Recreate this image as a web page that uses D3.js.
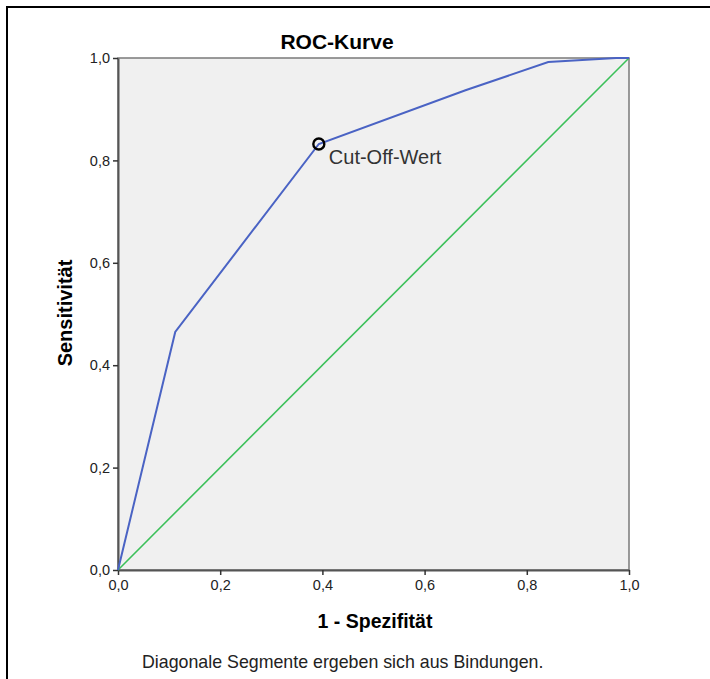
<!DOCTYPE html>
<html>
<head>
<meta charset="utf-8">
<script src="https://cdn.jsdelivr.net/npm/d3@7"></script>
<style>
  body { margin: 0; background: #fff; }
  svg { display: block; font-family: "Liberation Sans", Arial, sans-serif; }
</style>
</head>
<body>
<svg></svg>
<script>
const width = 710;
const height = 679;

// plot area
const x0 = 118, x1 = 629, y0 = 58, y1 = 570;

// ROC curve (1 - Spezifität, Sensitivität)
const rocX = [0, 0.112, 0.393, 0.68, 0.842, 0.975, 1];
const rocY = [0, 0.465, 0.832, 0.937, 0.992, 1, 1];
// reference diagonal
const diagX = [0, 1];
const diagY = [0, 1];
// cut-off point
const cutX = [0.393];
const cutY = [0.832];
const tickValues = [0, 0.2, 0.4, 0.6, 0.8, 1.0];

const svg = d3.select("svg")
  .attr("width", width)
  .attr("height", height);

// outer frame (top and left only visible)
svg.append("path")
  .attr("d", `M7,${height} L7,7 L${width},7`)
  .attr("fill", "none")
  .attr("stroke", "#000")
  .attr("stroke-width", 2);

const scX = d3.scaleLinear().domain([0, 1]).range([x0, x1]);
const scY = d3.scaleLinear().domain([0, 1]).range([y1, y0]);
const fmt = d => d3.format(".1f")(d).replace(".", ",");

// plot background
svg.append("rect")
  .attr("x", x0).attr("y", y0)
  .attr("width", x1 - x0).attr("height", y1 - y0)
  .attr("fill", "#f0f0f0")
  .attr("stroke", "#7a7a7a")
  .attr("stroke-width", 1.5);

// axes
const axX = svg.append("g")
  .attr("transform", `translate(0, ${y1})`)
  .call(d3.axisBottom(scX).tickValues(tickValues).tickFormat(fmt).tickSize(5).tickSizeOuter(0));
const axY = svg.append("g")
  .attr("transform", `translate(${x0}, 0)`)
  .call(d3.axisLeft(scY).tickValues(tickValues).tickFormat(fmt).tickSize(5).tickSizeOuter(0));

[axX, axY].forEach(ax => {
  ax.select(".domain").attr("stroke", "#555").attr("stroke-width", 2);
  ax.selectAll(".tick line").attr("stroke", "#333").attr("stroke-width", 1.5);
  ax.selectAll(".tick text")
    .attr("fill", "#222")
    .style("font-size", "14.5px")
    .style("font-family", "Liberation Sans, Arial, sans-serif");
});
axX.selectAll(".tick text").attr("dy", "0.85em");
axY.selectAll(".tick text").attr("x", -8);

const line = d3.line().x(d => scX(d[0])).y(d => scY(d[1]));

// diagonal
svg.append("path")
  .datum(diagX.map((v, i) => [v, diagY[i]]))
  .attr("d", line)
  .attr("fill", "none")
  .attr("stroke", "#3cc05a")
  .attr("stroke-width", 1.6);

// ROC curve
svg.append("path")
  .datum(rocX.map((v, i) => [v, rocY[i]]))
  .attr("d", line)
  .attr("fill", "none")
  .attr("stroke", "#4a63c4")
  .attr("stroke-width", 2);

// cut-off marker
svg.selectAll(".cut")
  .data(cutX.map((v, i) => [v, cutY[i]]))
  .enter()
  .append("circle")
  .attr("cx", d => scX(d[0]))
  .attr("cy", d => scY(d[1]))
  .attr("r", 5.5)
  .attr("fill", "none")
  .attr("stroke", "#000")
  .attr("stroke-width", 2.4);

svg.append("text")
  .attr("x", scX(cutX[0]) + 10)
  .attr("y", scY(cutY[0]) + 20)
  .attr("fill", "#333")
  .style("font-size", "20px")
  .text("Cut-Off-Wert");

// title
svg.append("text")
  .attr("x", 337).attr("y", 49)
  .attr("text-anchor", "middle")
  .style("font-size", "21px")
  .style("font-weight", "bold")
  .text("ROC-Kurve");

// axis titles
svg.append("text")
  .attr("x", 375).attr("y", 628)
  .attr("text-anchor", "middle")
  .style("font-size", "19.5px")
  .style("font-weight", "bold")
  .text("1 - Spezifität");

svg.append("text")
  .attr("transform", `translate(72, 313) rotate(-90)`)
  .attr("text-anchor", "middle")
  .style("font-size", "20px")
  .style("font-weight", "bold")
  .text("Sensitivität");

// footnote
svg.append("text")
  .attr("x", 142).attr("y", 668)
  .attr("fill", "#222")
  .style("font-size", "17.8px")
  .text("Diagonale Segmente ergeben sich aus Bindungen.");
</script>
</body>
</html>
